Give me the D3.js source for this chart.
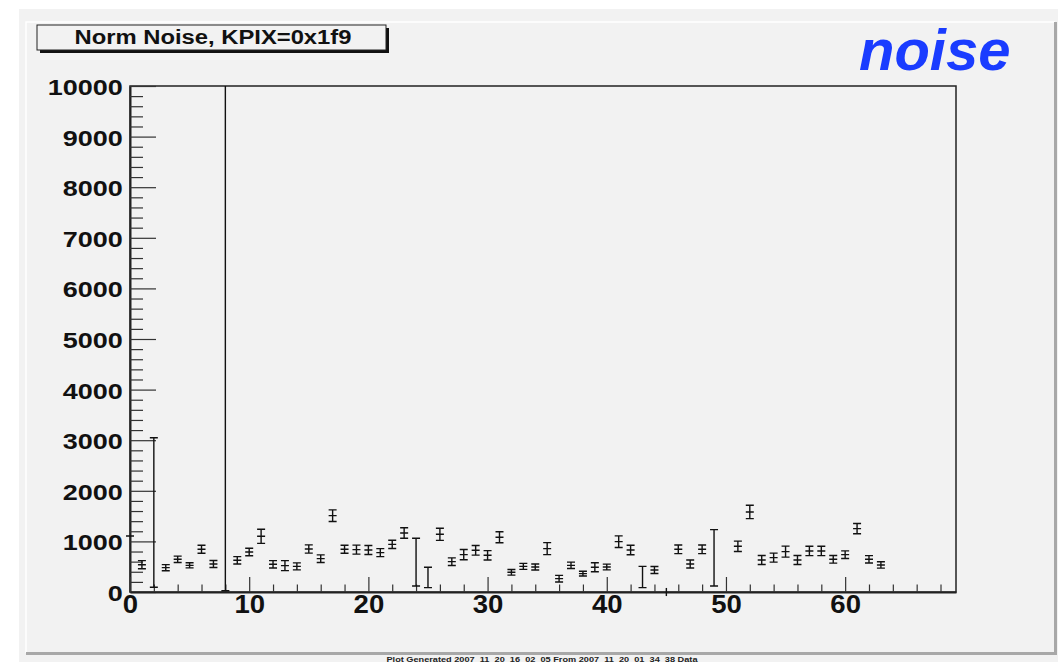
<!DOCTYPE html>
<html>
<head>
<meta charset="utf-8">
<script src="https://cdn.jsdelivr.net/npm/d3@7"></script>
<style>
  body { margin: 0; background: #fff; }
  svg { display: block; font-family: "Liberation Sans", Arial, Helvetica, sans-serif; }
</style>
</head>
<body>
<div id="my_dataviz"></div>
<script>

// noise per channel, index = channel number (null = no normal point)
var channels = d3.range(0, 64)
var noiseVal = [1107, 540, null, 481, 646, 527, 844, 553, null, 626,
                791, 1101, 547, 521, 507, 850, 659, 1509, 844, 837,
                830, 778, 942, 1166, null, null, 1140, 600, 738, 824,
                725, 1081, 389, 507, 494, 857, 264, 527, 363, 488,
                494, 995, 830, null, 435, null, 844, 553, 844, null,
                null, 903, 1582, 633, 679, 798, 633, 811, 811, 646,
                738, 1252, 646, 534]
var noiseErr = [0, 80, null, 60, 63, 50, 79, 69, null, 73,
                75, 140, 73, 99, 69, 82, 75, 115, 79, 89,
                89, 79, 82, 105, null, null, 119, 75, 102, 95,
                92, 109, 56, 59, 59, 119, 65, 63, 46, 89,
                56, 115, 95, null, 69, null, 85, 79, 85, null,
                null, 102, 132, 89, 89, 109, 89, 92, 92, 75,
                75, 102, 72, 63]

// channels with big error bars and no centre mark
var wideChan = [2, 8, 24, 25, 43, 49]
var wideLo = [93, 25, 119, 86, 86, 119]
var wideHi = [3049, 12000, 1061, 488, 507, 1232]

// channel with a bar across zero, no caps
var stubChan = [45]
var stubLo = [-80]
var stubHi = [80]

var yMajor = d3.range(0, 10001, 1000)
var yMinor = d3.range(0, 10001, 200).filter(function (v) { return v % 1000 != 0 })
var xMajor = [0, 10, 20, 30, 40, 50, 60]
var xMinor = d3.range(2, 69, 2).filter(function (v) { return v % 10 != 0 })

var titleText = "Norm Noise, KPIX=0x1f9"
var tagText = "noise"
var footText = "Plot Generated 2007_11_20_16_02_05 From 2007_11_20_01_34_38 Data"

var W = 1058, H = 662
var frame = { left: 130, right: 956, top: 86, bottom: 592 }

var svg = d3.select("#my_dataviz")
    .append("svg")
    .attr("width", W)
    .attr("height", H)

// canvas + pad
svg.append("rect").attr("x", 19).attr("y", 9).attr("width", W - 19).attr("height", H - 9).attr("fill", "#f2f2f2")
svg.append("rect").attr("x", 26).attr("y", 22).attr("width", 1030).attr("height", 631).attr("fill", "#f2f2f2")
svg.append("path").attr("d", "M26,653V22H1055").attr("fill", "none").attr("stroke", "#ffffff").attr("stroke-width", 1.5)
svg.append("path").attr("d", "M26,653.5H1055.5V22").attr("fill", "none").attr("stroke", "#a8a8a8").attr("stroke-width", 3)

var x = d3.scaleLinear()
    .domain([0, 69.3])
    .range([frame.left, frame.right])
var y = d3.scaleLinear()
    .domain([0, 10000])
    .range([frame.bottom, frame.top])

// frame
svg.append("rect")
    .attr("x", frame.left).attr("y", frame.top)
    .attr("width", frame.right - frame.left).attr("height", frame.bottom - frame.top)
    .attr("fill", "none").attr("stroke", "#222").attr("stroke-width", 1.5)

svg.append("clipPath").attr("id", "clip")
    .append("rect")
    .attr("x", frame.left).attr("y", frame.top)
    .attr("width", frame.right - frame.left).attr("height", frame.bottom - frame.top + 2)

// Y axis: major + minor ticks pointing inward
var yAx = svg.append("g")
    .attr("transform", "translate(" + frame.left + ",0)")
    .call(d3.axisLeft(y).tickValues(yMajor).tickFormat(d3.format("d"))
        .tickSizeInner(-26).tickSizeOuter(0).tickPadding(6))
yAx.select(".domain").attr("stroke", "#222").attr("stroke-width", 2)
yAx.selectAll(".tick line").attr("stroke", "#333").attr("stroke-width", 1.2)
yAx.selectAll(".tick text")
    .attr("fill", "#111")
    .attr("font-size", 22.5)
    .attr("font-weight", "bold")
    .attr("dy", "0.38em")
    .attr("transform", "scale(1.2,1)")

var yAxMin = svg.append("g")
    .attr("transform", "translate(" + frame.left + ",0)")
    .call(d3.axisLeft(y).tickValues(yMinor).tickSizeInner(-13).tickSizeOuter(0).tickFormat(""))
yAxMin.select(".domain").remove()
yAxMin.selectAll(".tick line").attr("stroke", "#333").attr("stroke-width", 1.2)

// X axis
var xAx = svg.append("g")
    .attr("transform", "translate(0," + frame.bottom + ")")
    .call(d3.axisBottom(x).tickValues(xMajor).tickFormat(d3.format("d"))
        .tickSizeInner(-15).tickSizeOuter(0).tickPadding(3))
xAx.select(".domain").attr("stroke", "#222").attr("stroke-width", 2)
xAx.selectAll(".tick line").attr("stroke", "#333").attr("stroke-width", 1.2)
xAx.selectAll(".tick text")
    .attr("fill", "#111")
    .attr("font-size", 25.5)
    .attr("font-weight", "bold")
    .attr("transform", "scale(1.08,1)")

var xAxMin = svg.append("g")
    .attr("transform", "translate(0," + frame.bottom + ")")
    .call(d3.axisBottom(x).tickValues(xMinor).tickSizeInner(-7.5).tickSizeOuter(0).tickFormat(""))
xAxMin.select(".domain").remove()
xAxMin.selectAll(".tick line").attr("stroke", "#333").attr("stroke-width", 1.2)

// normal points: caps + bar + centre mark
var pts = channels.filter(function (c) { return noiseVal[c] != null })
var cap = 4
var gPts = svg.append("g").attr("stroke", "#111").attr("stroke-width", 1.4).attr("fill", "none")
gPts.selectAll("path")
    .data(pts)
    .enter().append("path")
    .attr("d", function (c) {
        var cx = x(c), lo = y(noiseVal[c] - noiseErr[c]), hi = y(noiseVal[c] + noiseErr[c]), m = y(noiseVal[c])
        return "M" + (cx - cap) + "," + hi + "H" + (cx + cap) +
            "M" + (cx - cap) + "," + lo + "H" + (cx + cap) +
            "M" + (cx - cap) + "," + m + "H" + (cx + cap) +
            "M" + cx + "," + hi + "V" + lo
    })

// wide error bars, clipped to frame
var gWide = svg.append("g").attr("clip-path", "url(#clip)")
    .attr("stroke", "#111").attr("stroke-width", 1.4).attr("fill", "none")
gWide.selectAll("path")
    .data(wideChan)
    .enter().append("path")
    .attr("d", function (c, i) {
        var cx = x(c), lo = y(wideLo[i]), hi = y(wideHi[i])
        return "M" + (cx - cap) + "," + hi + "H" + (cx + cap) +
            "M" + (cx - cap) + "," + lo + "H" + (cx + cap) +
            "M" + cx + "," + hi + "V" + lo
    })

svg.append("g").attr("stroke", "#111").attr("stroke-width", 1.4)
    .selectAll("line")
    .data(stubChan)
    .enter().append("line")
    .attr("x1", function (c) { return x(c) }).attr("x2", function (c) { return x(c) })
    .attr("y1", function (c, i) { return y(stubLo[i]) })
    .attr("y2", function (c, i) { return y(stubHi[i]) })

// title box with shadow
svg.append("rect").attr("x", 40).attr("y", 28).attr("width", 349).attr("height", 25).attr("fill", "#111")
svg.append("rect").attr("x", 37).attr("y", 25).attr("width", 349).attr("height", 25)
    .attr("fill", "#f2f2f2").attr("stroke", "#222").attr("stroke-width", 1)
svg.append("text")
    .attr("transform", "translate(213,43.5) scale(1.19,1)")
    .attr("text-anchor", "middle")
    .attr("font-size", 20)
    .attr("font-weight", "bold")
    .attr("fill", "#111")
    .text(titleText)

// blue tag
svg.append("text")
    .attr("x", 859).attr("y", 70)
    .attr("font-size", 58)
    .attr("font-weight", "bold")
    .attr("font-style", "italic")
    .attr("fill", "#1a3cff")
    .text(tagText)

// footer, squeezed into the strip under the pad
svg.append("text")
    .attr("x", 542).attr("y", 661.5)
    .attr("text-anchor", "middle")
    .attr("font-size", 6.5)
    .attr("font-weight", "bold")
    .attr("fill", "#222")
    .attr("textLength", 311)
    .attr("lengthAdjust", "spacingAndGlyphs")
    .text(footText)

</script>
</body>
</html>
